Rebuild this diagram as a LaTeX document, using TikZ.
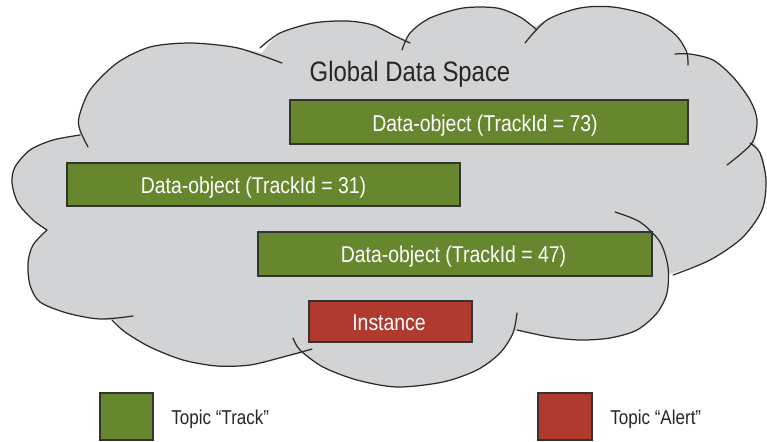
\documentclass[tikz,border=0pt]{standalone}
\usepackage{fontspec}
\setmainfont{Liberation Sans}[FakeStretch=0.85]
\definecolor{trackgreen}{HTML}{66872E}
\definecolor{alertred}{HTML}{B03A2E}
\definecolor{cloudgray}{HTML}{D2D3D5}
\definecolor{inkdark}{HTML}{2A2A2A}
\begin{document}
\begin{tikzpicture}[x=0.02cm,y=-0.02cm,
  cloudline/.style={draw=inkdark, line width=0.7pt, line cap=round},
  boxstyle/.style={draw=black!80, line width=0.8pt, inner sep=0pt, outer sep=0pt},
  greenbox/.style={boxstyle, fill=trackgreen},
  redbox/.style={boxstyle, fill=alertred},
  boxtext/.style={text=white, font=\fontsize{13}{15}\selectfont, anchor=base, inner sep=0pt},
  titletext/.style={text=black!85, font=\fontsize{16}{19}\selectfont, anchor=base, inner sep=0pt},
  legtext/.style={text=black!85, font=\fontsize{11.4}{13}\selectfont, anchor=base west, inner sep=0pt},
]
\useasboundingbox (0,0) rectangle (767,441);
\fill[white] (0,0) rectangle (767,441);

% cloud fill
\fill[cloudgray]
  plot[smooth] coordinates {(80,135) (79,117) (90,90) (117,63) (150,47) (190,43) (233,47) (262,53)}
  -- plot[smooth] coordinates {(262,53) (280,33) (313,23) (347,21) (373,25) (393,35) (406,42)}
  -- plot[smooth] coordinates {(406,42) (410,33) (430,18) (463,8) (497,8) (520,17) (533,28)}
  -- plot[smooth] coordinates {(533,28) (547,20) (580,8) (613,7) (647,15) (670,30) (680,40) (686,54)}
  -- plot[smooth] coordinates {(686,54) (713,60) (733,77) (750,100) (757,120) (754,142)}
  -- plot[smooth] coordinates {(754,142) (763,158) (766,180) (762,210) (742,238) (710,260) (669,274)}
  -- plot[smooth] coordinates {(669,274) (667,293) (657,313) (637,330) (610,338) (580,340) (550,337) (515,330)}
  -- plot[smooth] coordinates {(515,330) (500,353) (477,370) (443,382) (397,387) (357,380) (323,367) (304,353)}
  -- plot[smooth] coordinates {(304,353) (283,357) (250,365) (217,366) (183,360) (150,347) (125,332) (115,320)}
  -- plot[smooth] coordinates {(115,320) (100,319) (67,313) (40,302) (30,285) (28,263) (33,245) (47,230)}
  -- plot[smooth] coordinates {(47,230) (33,220) (18,203) (12,183) (15,167) (30,150) (53,140) (80,135)}
  -- cycle;

% cloud lobes
\draw[cloudline] plot[smooth] coordinates {(88,147) (80,130) (79,117) (90,90) (117,63) (150,47) (190,43) (233,47) (260,55) (282,63)};
\draw[cloudline] plot[smooth] coordinates {(260,48) (280,33) (313,23) (347,21) (373,25) (393,35) (410,43)};
\draw[cloudline] plot[smooth] coordinates {(402,50) (410,33) (430,18) (463,8) (497,8) (520,17) (537,30)};
\draw[cloudline] plot[smooth] coordinates {(525,43) (547,20) (580,8) (613,7) (647,15) (670,30) (680,40) (687,53) (688,65)};
\draw[cloudline] plot[smooth] coordinates {(675,54) (690,54) (713,60) (733,77) (750,100) (757,120) (752,143) (727,165)};
\draw[cloudline] plot[smooth] coordinates {(750,143) (760,153) (766,180) (762,210) (742,238) (710,260) (673,275)};
\draw[cloudline] plot[smooth] coordinates {(615,212) (640,222) (660,242) (668,267) (667,293) (657,313) (637,330) (610,338) (580,340) (550,337) (517,330)};
\draw[cloudline] plot[smooth] coordinates {(517,313) (513,333) (500,353) (477,370) (443,382) (397,387) (357,380) (323,367) (300,350) (293,338)};
\draw[cloudline] plot[smooth] coordinates {(312,349) (283,357) (250,365) (217,366) (183,360) (150,347) (125,332) (112,320)};
\draw[cloudline] plot[smooth] coordinates {(133,316) (100,319) (67,313) (40,302) (30,285) (28,263) (33,245) (47,230)};
\draw[cloudline] plot[smooth] coordinates {(47,230) (33,220) (18,203) (12,183) (15,167) (30,150) (53,140) (80,135)};

% title
\node[titletext] (title) at (410,81) {Global Data Space};

% boxes
\node[greenbox, minimum width=7.96cm, minimum height=0.88cm] (b73) at (489,122) {};
\node[boxtext] (t73) at (485,131) {Data-object (TrackId = 73)};
\node[greenbox, minimum width=7.86cm, minimum height=0.86cm] (b31) at (263.5,184.5) {};
\node[boxtext] (t31) at (253.5,193) {Data-object (TrackId = 31)};
\node[greenbox, minimum width=7.88cm, minimum height=0.88cm] (b47) at (455,254) {};
\node[boxtext] (t47) at (453.5,262) {Data-object (TrackId = 47)};
\node[redbox, minimum width=3.26cm, minimum height=0.82cm] (inst) at (390.5,321.5) {};
\node[boxtext] (tinst) at (389,330) {Instance};

% legend
\node[greenbox, minimum width=1.06cm, minimum height=0.94cm] (lgreen) at (126.5,416.5) {};
\node[legtext] (ltrack) at (171,424) {Topic “Track”};
\node[redbox, minimum width=1.08cm, minimum height=0.94cm] (lred) at (565,416.5) {};
\node[legtext] (lalert) at (610,424) {Topic “Alert”};
\end{tikzpicture}
\end{document}
